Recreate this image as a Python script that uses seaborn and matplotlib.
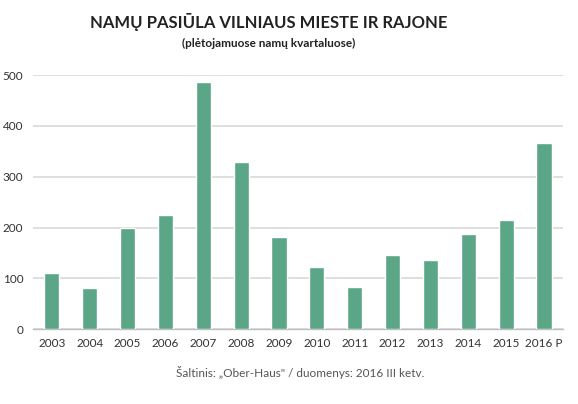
import matplotlib
matplotlib.use("Agg")
import matplotlib.pyplot as plt
import seaborn as sns
import pandas as pd

years = ["2003", "2004", "2005", "2006", "2007", "2008", "2009", "2010",
         "2011", "2012", "2013", "2014", "2015", "2016 P"]
values = [110, 82, 200, 224, 486, 329, 182, 123, 84, 146, 136, 187, 215, 366]
yticks = [0, 100, 200, 300, 400, 500]

df = pd.DataFrame({"year": years, "value": values})

sns.set_theme(style="white")
plt.rcParams['font.family'] = ['Lato', 'DejaVu Sans']

fig = plt.figure(figsize=(5.78, 4.04), dpi=100)
ax = fig.add_axes([0.057, 0.185, 0.917, 0.629])

sns.barplot(data=df, x="year", y="value", color="#5BA687", width=0.4,
            saturation=1, ax=ax, zorder=3)

ax.set_ylim(0, 500)
ax.set_xlim(-0.5, len(years) - 0.5)
ax.set_yticks(yticks)
ax.set_yticklabels([str(v) for v in yticks], fontsize=8.5, color="#333333")
ax.yaxis.grid(True, color="#d9d9d9", linewidth=1.2, zorder=0)
ax.set_axisbelow(True)
ax.set_xlabel("")
ax.set_ylabel("")

for s in ["top", "right", "left"]:
    ax.spines[s].set_visible(False)
ax.spines["bottom"].set_color("#bfbfbf")
ax.spines["bottom"].set_linewidth(1.0)

# ticks at category boundaries
ax.set_xticks([i - 0.5 for i in range(len(years) + 1)], minor=True)
ax.tick_params(axis="x", which="minor", length=4, color="#bfbfbf", width=1, direction="out")
ax.tick_params(axis="x", which="major", length=0, pad=6, labelsize=8.5, labelcolor="#333333")
ax.tick_params(axis="y", length=0, pad=7)

fig.text(0.465, 0.945, "NAMŲ PASIŪLA VILNIAUS MIESTE IR RAJONE", ha="center", va="center",
         fontsize=12, fontweight="bold", color="#222222")
fig.text(0.465, 0.893, "(plėtojamuose namų kvartaluose)", ha="center", va="center",
         fontsize=8.5, fontweight="bold", color="#222222")
fig.text(0.52, 0.078, "Šaltinis: „Ober-Haus\" / duomenys: 2016 III ketv.", ha="center", va="center",
         fontsize=8.5, color="#555555")

fig.savefig("out.png", dpi=100, facecolor="white")
